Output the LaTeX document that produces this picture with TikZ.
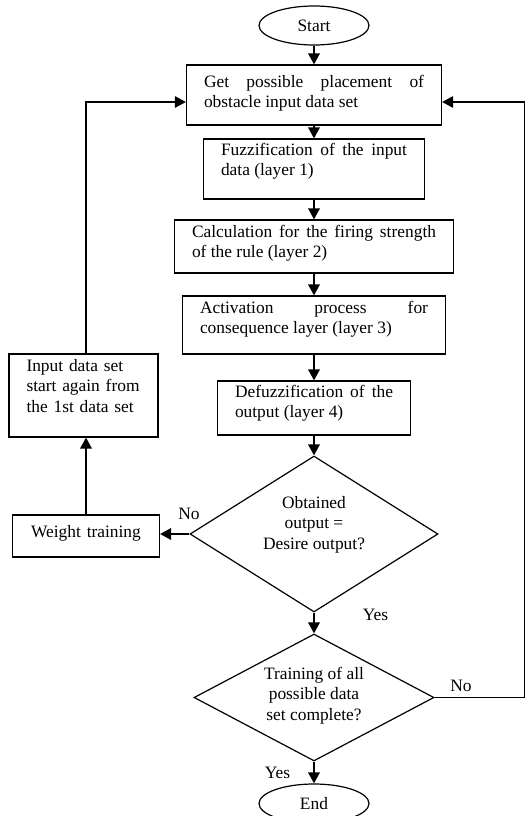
\documentclass[tikz,border=0pt]{standalone}
\usepackage{fontspec}
\setmainfont{Liberation Serif}
\usetikzlibrary{shapes.geometric,arrows.meta}
\begin{document}
\begin{tikzpicture}[x=1pt,y=-1pt,
  every node/.style={font=\fontsize{17.4}{20.5}\selectfont},
  procbox/.style={draw, line width=1.2pt, rectangle, inner xsep=17.5pt, inner ysep=0pt,
    text height=12pt, align=justify},
  termin/.style={draw, line width=1.2pt, ellipse, minimum width=110pt, minimum height=39pt, inner sep=0pt},
  decide/.style={draw, line width=1.2pt, diamond, inner sep=0pt, align=center, text height=53pt},
  arr/.style={line width=1.8pt, -{Triangle[length=11pt,width=11.5pt]}},
  looparr/.style={line width=1.3pt, -{Triangle[length=11pt,width=11.5pt]}},
  lbl/.style={inner sep=0pt}
]
\useasboundingbox (0,0) rectangle (525,816);
\clip (0,0) rectangle (525,816);

\node[termin] (start) at (314,25.5) {Start};
\node[procbox, text width=220pt, minimum width=255pt, minimum height=60pt, text depth=28pt] (b1) at (314,95)
  {Get possible placement of\linebreak obstacle input data set};
\node[procbox, text width=186pt, minimum width=221pt, minimum height=60pt, text depth=40pt] (b2) at (314,169)
  {Fuzzification of the input\linebreak data (layer 1)};
\node[procbox, text width=244pt, minimum width=279pt, minimum height=53pt, text depth=31pt] (b3) at (314,246.5)
  {Calculation for the firing strength\linebreak of the rule (layer 2)};
\node[procbox, text width=228pt, minimum width=263pt, minimum height=58pt, text depth=36pt] (b4) at (314,325)
  {Activation process for\linebreak consequence layer (layer 3)};
\node[procbox, text width=158pt, minimum width=193pt, minimum height=54pt, text depth=34pt] (b5) at (314,408)
  {Defuzzification of the\linebreak output (layer 4)};
\node[decide, shape aspect=1.6, minimum width=248pt, minimum height=156pt, text depth=23pt] (d1) at (314,534)
  {Obtained\\ output =\\ Desire output?};
\node[decide, shape aspect=1.88, minimum width=240pt, minimum height=127pt, text depth=8pt] (d2) at (314,697.5)
  {Training of all\\ possible data\\ set complete?};
\node[termin] (end) at (314,803.5) {End};

\node[procbox, align=left, text width=114pt, minimum width=149pt, minimum height=83pt, text depth=61pt] (inp) at (83.5,395.5)
  {Input data set\\ start again from\\ the 1st data set};
\node[procbox, align=center, text width=112pt, minimum width=147pt, minimum height=42pt, text depth=10pt] (wt) at (86,536)
  {Weight training};

\node[lbl] (no1) at (189,514) {No};
\node[lbl] (yes1) at (375.5,615) {Yes};
\node[lbl] (no2) at (461,686) {No};
\node[lbl] (yes2) at (277.5,773) {Yes};

\coordinate (lt) at (86,102);
\coordinate (rt) at (524.5,102);
\coordinate (rb) at (524.5,697.5);

\draw[arr] (start.south) -- (b1.north);
\draw[arr] (b1.south) -- (b2.north);
\draw[arr] (b2.south) -- (b3.north);
\draw[arr] (b3.south) -- (b4.north);
\draw[arr] (b4.south) -- (b5.north);
\draw[arr] (b5.south) -- (d1.north);
\draw[arr] (d1.south) -- (d2.north);
\draw[arr] (d2.south) -- (end.north);
\draw[arr] (d1.west) -- (d1.west -| wt.east);
\draw[arr] (wt.north) -- (wt.north |- inp.south);
\draw[looparr] (lt |- inp.north) -- (lt) -- (lt -| b1.west);
\draw[looparr] (d2.east) -- (rb) -- (rt) -- (rt -| b1.east);
\end{tikzpicture}
\end{document}
